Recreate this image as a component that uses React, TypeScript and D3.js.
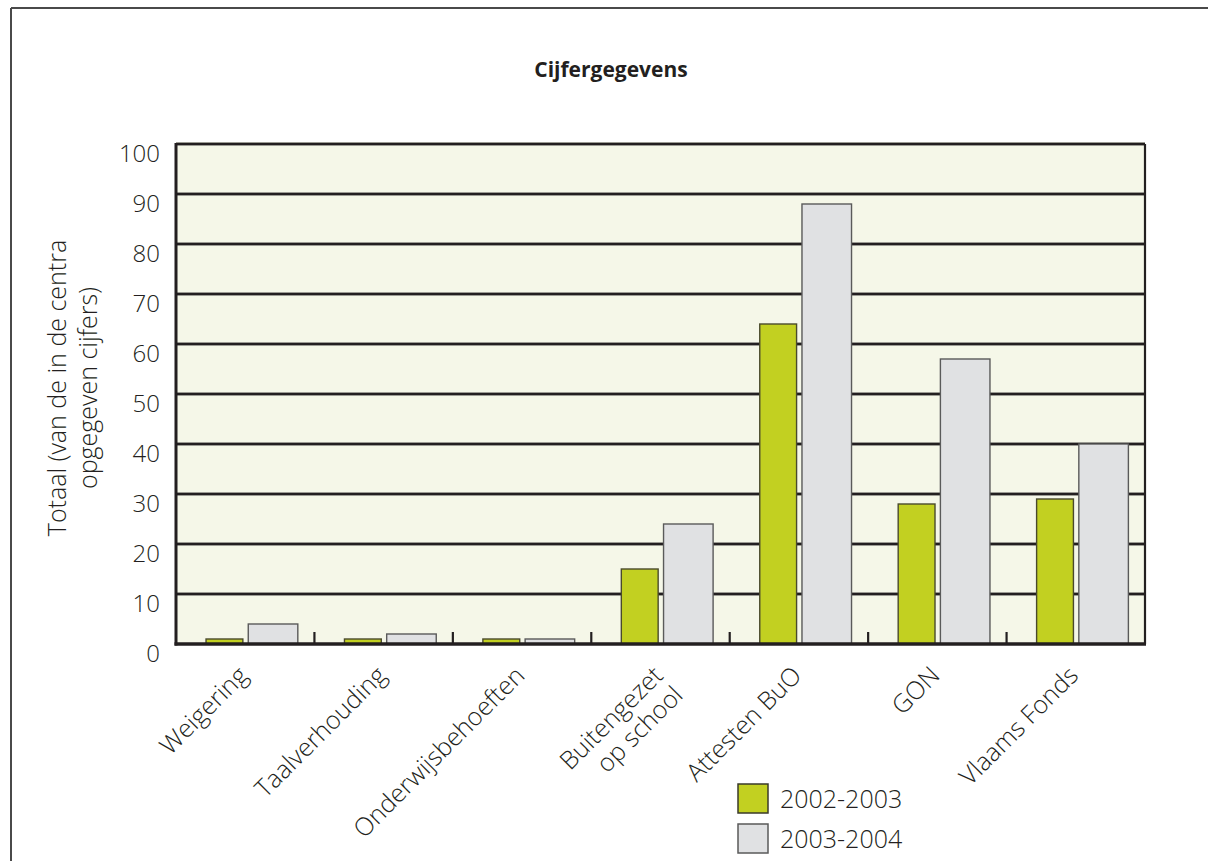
import React from "react";
import * as d3 from "d3";

const categories = [
  "Weigering",
  "Taalverhouding",
  "Onderwijsbehoeften",
  "Buitengezet\nop school",
  "Attesten BuO",
  "GON",
  "Vlaams Fonds",
];
const series2002 = [1, 1, 1, 15, 64, 28, 29];
const series2003 = [4, 2, 1, 24, 88, 57, 40];
const seriesNames = ["2002-2003", "2003-2004"];
const yTicks = [0, 10, 20, 30, 40, 50, 60, 70, 80, 90, 100];
const title = "Cijfergegevens";
const yTitle = ["Totaal (van de in de centra", "opgegeven cijfers)"];

const W = 1208;
const H = 861;
const plot = { left: 176, right: 1145, top: 144, bottom: 644 };
const FONT = "'Open Sans', 'Noto Sans', sans-serif";
const TEXT = "#231f20";
const GREEN = "#c2d021";
const GRAY = "#e0e1e3";
const BG = "#f5f7e8";
const LIGHT = 300;

export default function App() {
  const x = d3
    .scaleBand<string>()
    .domain(categories)
    .range([plot.left, plot.right]);
  const y = d3.scaleLinear().domain([0, 100]).range([plot.bottom, plot.top]);
  const bw = x.bandwidth();

  const boundaries = categories.slice(1).map((c) => x(c) as number);

  return (
    <svg
      width={W}
      height={H}
      style={{ position: "absolute", left: 0, top: 0, background: "#fff" }}
      fontFamily={FONT}
    >
      {/* outer frame */}
      <line x1={11} y1={8} x2={W} y2={8} stroke="#4a4a4a" strokeWidth={2} />
      <line x1={11} y1={8} x2={11} y2={H} stroke="#4a4a4a" strokeWidth={2} />

      {/* title */}
      <text
        x={611}
        y={77}
        textAnchor="middle"
        fontSize={21}
        fontWeight="bold"
        fill={TEXT}
      >
        {title}
      </text>

      {/* plot background */}
      <rect
        x={plot.left}
        y={plot.top}
        width={plot.right - plot.left}
        height={plot.bottom - plot.top}
        fill={BG}
      />

      {/* gridlines */}
      {yTicks
        .filter((t) => t > 0)
        .map((t) => (
          <g key={"g" + t}>
            <line
              x1={plot.left}
              x2={plot.right}
              y1={y(t)}
              y2={y(t)}
              stroke="#9c9c94"
              strokeWidth={4}
            />
            <line
              x1={plot.left}
              x2={plot.right}
              y1={y(t)}
              y2={y(t)}
              stroke="#231f20"
              strokeWidth={2.2}
            />
          </g>
        ))}

      {/* x tick marks */}
      {boundaries.map((bx, i) => (
        <line
          key={"t" + i}
          x1={bx}
          x2={bx}
          y1={plot.bottom}
          y2={plot.bottom - 12}
          stroke="#231f20"
          strokeWidth={2.2}
        />
      ))}

      {/* bars */}
      {categories.map((c, i) => {
        const x0 = x(c) as number;
        return (
          <g key={"b" + i}>
            <rect
              x={x0 + bw * 0.217}
              y={y(series2002[i])}
              width={bw * 0.266}
              height={plot.bottom - y(series2002[i])}
              fill={GREEN}
              stroke="#4a4a2c"
              strokeWidth={1.4}
            />
            <rect
              x={x0 + bw * 0.522}
              y={y(series2003[i])}
              width={bw * 0.358}
              height={plot.bottom - y(series2003[i])}
              fill={GRAY}
              stroke="#5a5a5a"
              strokeWidth={1.4}
            />
          </g>
        );
      })}

      {/* axes */}
      <line
        x1={plot.right}
        x2={plot.right}
        y1={plot.top}
        y2={plot.bottom}
        stroke="#231f20"
        strokeWidth={2.2}
      />
      <line
        x1={plot.left}
        x2={plot.left}
        y1={plot.top - 1}
        y2={plot.bottom + 1.5}
        stroke="#231f20"
        strokeWidth={3}
      />
      <line
        x1={plot.left - 1.5}
        x2={plot.right + 1}
        y1={plot.bottom}
        y2={plot.bottom}
        stroke="#231f20"
        strokeWidth={3.5}
      />

      {/* y tick labels */}
      {yTicks.map((t) => (
        <text
          key={"y" + t}
          x={160}
          y={y(t) + 18}
          textAnchor="end"
          fontSize={24}
          fontWeight={LIGHT}
          fill={TEXT}
        >
          {t}
        </text>
      ))}

      {/* y title */}
      <g transform={`translate(0, ${(plot.top + plot.bottom) / 2 - 6})`}>
        {yTitle.map((line, i) => (
          <text
            key={"yt" + i}
            transform={`translate(${66 + i * 31}, 0) rotate(-90)`}
            textAnchor="middle"
            fontSize={25}
            fontWeight={LIGHT}
            fill={TEXT}
          >
            {line}
          </text>
        ))}
      </g>

      {/* x labels */}
      {categories.map((c, i) => {
        const cx = (x(c) as number) + bw / 2;
        const lines = c.split("\n");
        return (
          <g key={"xl" + i} transform={`translate(${cx + 4}, ${677}) rotate(-45)`}>
            {lines.map((ln, j) => (
              <text
                key={j}
                x={0}
                y={j * 28}
                textAnchor="end"
                fontSize={25}
                fontWeight={LIGHT}
                fill={TEXT}
              >
                {ln}
              </text>
            ))}
          </g>
        );
      })}

      {/* legend */}
      {seriesNames.map((s, i) => (
        <g key={"l" + i} transform={`translate(738, ${784 + i * 40})`}>
          <rect
            x={0}
            y={0}
            width={30}
            height={29}
            fill={i === 0 ? GREEN : GRAY}
            stroke={i === 0 ? "#3a3a2a" : "#5a5a5a"}
            strokeWidth={1.5}
          />
          <text x={42} y={24} fontSize={25} fontWeight={LIGHT} fill={TEXT}>
            {s}
          </text>
        </g>
      ))}
    </svg>
  );
}
